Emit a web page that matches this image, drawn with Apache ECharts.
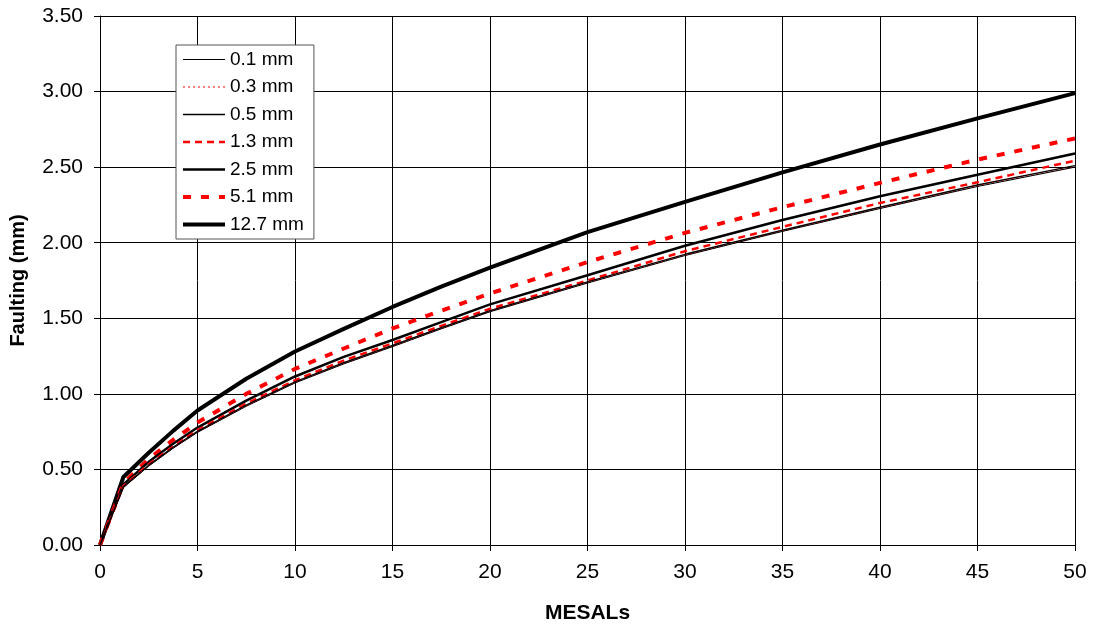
<!DOCTYPE html>
<html>
<head>
<meta charset="utf-8">
<script src="https://cdn.jsdelivr.net/npm/echarts@6/dist/echarts.min.js"></script>
<style>
html,body{margin:0;padding:0;background:#fff;}
#chart{width:1094px;height:629px;}
</style>
</head>
<body>
<div id="chart"></div>
<script>
// MESALs (x values shared by all series)
const mesals = [0, 1.2, 2.5, 3.75, 5, 7.5, 10, 12.5, 15, 17.5, 20, 25, 30, 35, 40, 45, 50];
// Faulting (mm) for each joint opening
const f01  = [0, 0.380, 0.522, 0.640, 0.745, 0.918, 1.072, 1.198, 1.312, 1.430, 1.543, 1.733, 1.915, 2.075, 2.226, 2.372, 2.500];
const f03  = [0, 0.382, 0.525, 0.642, 0.747, 0.920, 1.074, 1.200, 1.314, 1.432, 1.545, 1.735, 1.917, 2.077, 2.228, 2.375, 2.503];
const f05  = [0, 0.385, 0.528, 0.646, 0.751, 0.925, 1.079, 1.206, 1.320, 1.437, 1.550, 1.741, 1.923, 2.083, 2.235, 2.382, 2.510];
const f13  = [0, 0.390, 0.535, 0.652, 0.760, 0.935, 1.090, 1.220, 1.334, 1.450, 1.563, 1.750, 1.944, 2.105, 2.263, 2.400, 2.543];
const f25  = [0, 0.400, 0.550, 0.670, 0.777, 0.955, 1.115, 1.245, 1.356, 1.475, 1.592, 1.785, 1.980, 2.150, 2.307, 2.450, 2.590];
const f51  = [0, 0.410, 0.570, 0.695, 0.810, 1.000, 1.165, 1.300, 1.433, 1.550, 1.664, 1.872, 2.065, 2.235, 2.396, 2.550, 2.690];
const f127 = [0, 0.450, 0.610, 0.755, 0.890, 1.100, 1.280, 1.430, 1.575, 1.710, 1.835, 2.070, 2.270, 2.465, 2.650, 2.823, 2.990];
const seriesNames = ['0.1 mm', '0.3 mm', '0.5 mm', '1.3 mm', '2.5 mm', '5.1 mm', '12.7 mm'];
const xTicks = {min: 0, max: 50, interval: 5};
const yTicks = {min: 0, max: 3.5, interval: 0.5};

const styles = [
  {color: '#000', width: 1, type: 'solid'},
  {color: '#ff0000', width: 1, type: [2, 3]},
  {color: '#000', width: 1.5, type: 'solid'},
  {color: '#ff0000', width: 2.5, type: [7, 5]},
  {color: '#000', width: 2.5, type: 'solid'},
  {color: '#ff0000', width: 4, type: [8, 10]},
  {color: '#000', width: 4, type: 'solid'}
];
const values = [f01, f03, f05, f13, f25, f51, f127];
const font = 'Liberation Sans, Arial, sans-serif';

const series = values.map((v, i) => ({
  name: seriesNames[i],
  type: 'line',
  data: mesals.map((x, j) => [x, v[j]]),
  symbol: 'none',
  showSymbol: false,
  smooth: false,
  z: 10 - i,
  lineStyle: {color: styles[i].color, width: styles[i].width, type: styles[i].type, cap: 'butt', join: 'round'},
  itemStyle: {color: styles[i].color}
}));

const legendData = seriesNames.map((n, i) => ({
  name: n,
  lineStyle: {color: styles[i].color, width: styles[i].width, type: styles[i].type, cap: 'butt'}
}));

const chart = echarts.init(document.getElementById('chart'), null, {renderer: 'canvas'});
chart.setOption({
  animation: false,
  backgroundColor: '#fff',
  grid: {left: 98, right: 19, top: 16, bottom: 83, containLabel: false},
  legend: {
    orient: 'vertical',
    left: 176, top: 45,
    data: legendData,
    itemWidth: 42, itemHeight: 12, itemGap: 8.5,
    padding: [5, 10, 5, 5],
    backgroundColor: '#fff',
    borderColor: '#555', borderWidth: 1, borderRadius: 0,
    itemStyle: {opacity: 0, borderWidth: 0},
    textStyle: {fontFamily: font, fontSize: 19, color: '#000', padding: [0, 0, 0, 0]},
    selectedMode: false
  },
  xAxis: {
    type: 'value', min: xTicks.min, max: xTicks.max, interval: xTicks.interval,
    name: 'MESALs', nameLocation: 'middle', nameGap: 58,
    nameTextStyle: {fontFamily: font, fontSize: 21, fontWeight: 'bold', color: '#000'},
    axisLine: {lineStyle: {color: '#000', width: 1}},
    axisTick: {show: true, inside: false, length: 6, lineStyle: {color: '#000'}},
    axisLabel: {fontFamily: font, fontSize: 21, color: '#000', margin: 17},
    splitLine: {show: true, lineStyle: {color: '#000', width: 1}}
  },
  yAxis: {
    type: 'value', min: yTicks.min, max: yTicks.max, interval: yTicks.interval,
    name: 'Faulting (mm)', nameLocation: 'middle', nameGap: 72,
    nameTextStyle: {fontFamily: font, fontSize: 20, fontWeight: 'bold', color: '#000'},
    axisLine: {show: true, lineStyle: {color: '#000', width: 1}},
    axisTick: {show: true, inside: false, length: 6, lineStyle: {color: '#000'}},
    axisLabel: {fontFamily: font, fontSize: 21, color: '#000', margin: 17,
      formatter: v => v.toFixed(2)},
    splitLine: {show: true, lineStyle: {color: '#000', width: 1}}
  },
  series: series
});
</script>
</body>
</html>
